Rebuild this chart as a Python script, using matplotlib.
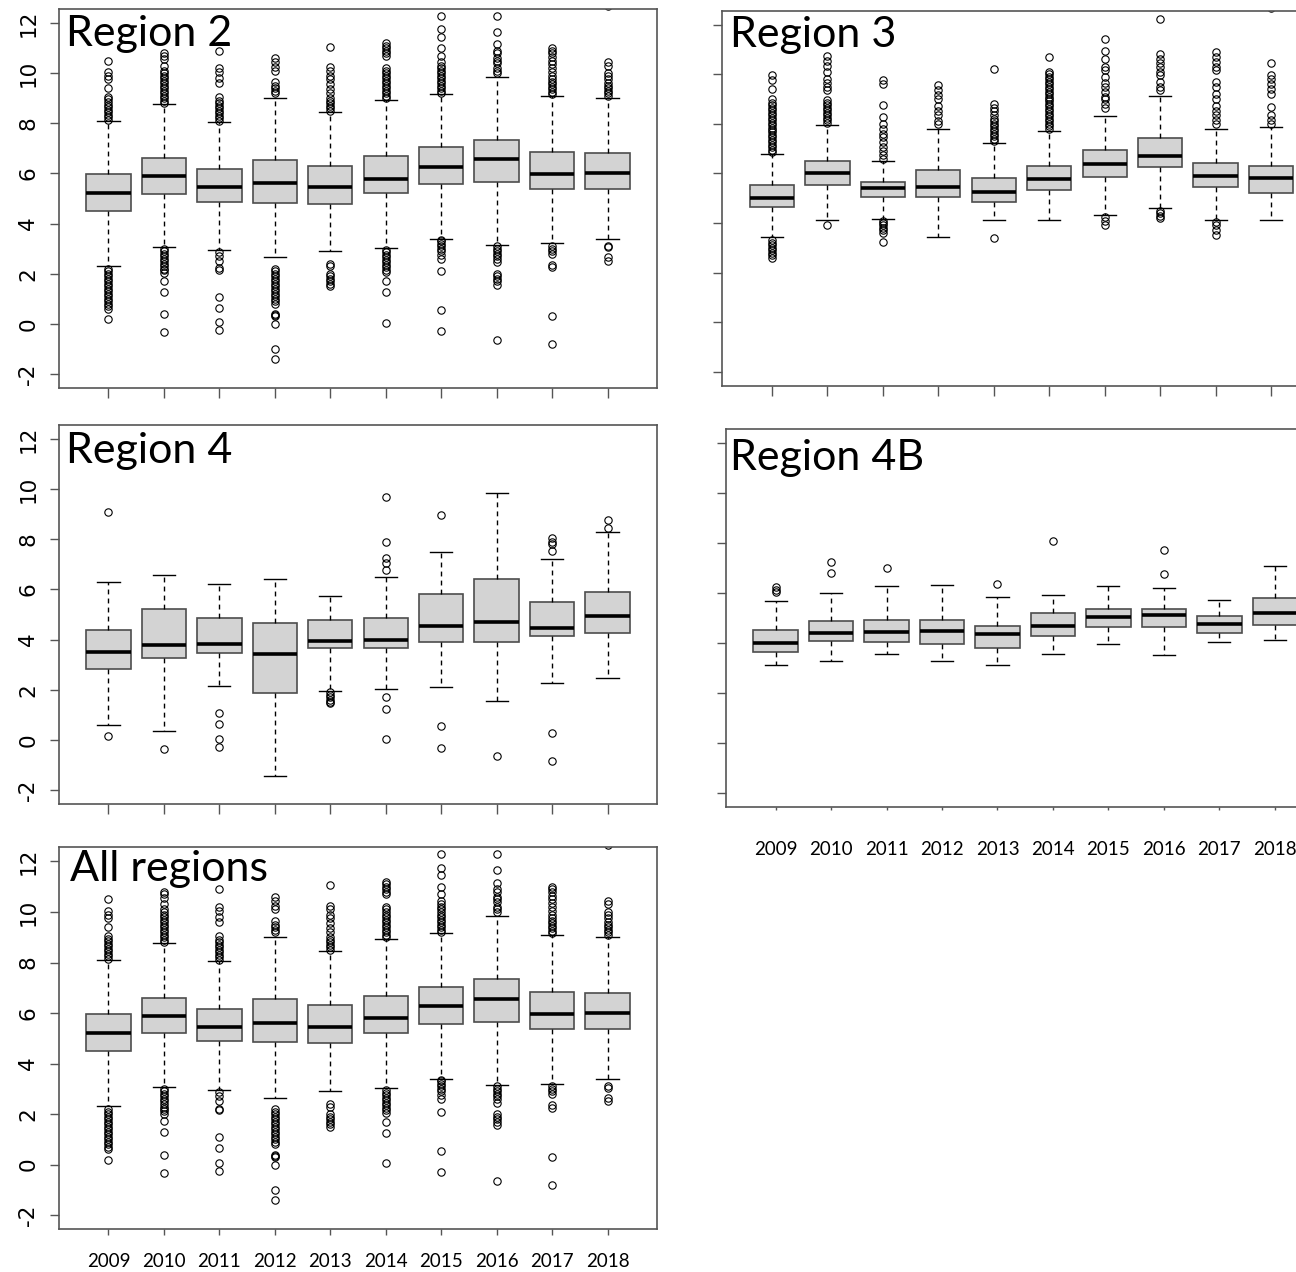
import matplotlib
matplotlib.use("Agg")
import matplotlib.pyplot as plt

# ---------------- data ----------------
years = ["2009", "2010", "2011", "2012", "2013", "2014", "2015", "2016", "2017", "2018"]
y_ticks = [-2, 0, 2, 4, 6, 8, 10, 12]

# Region 2
r2_med = [5.20, 5.88, 5.44, 5.61, 5.44, 5.79, 6.27, 6.56, 5.97, 6.01]
r2_q1 = [4.49, 5.19, 4.88, 4.84, 4.80, 5.21, 5.56, 5.64, 5.36, 5.36]
r2_q3 = [5.96, 6.60, 6.16, 6.55, 6.31, 6.69, 7.04, 7.33, 6.85, 6.81]
r2_lo = [2.31, 3.07, 2.96, 2.65, 2.92, 3.03, 3.39, 3.16, 3.21, 3.39]
r2_hi = [8.11, 8.76, 8.05, 9.01, 8.45, 8.93, 9.17, 9.83, 9.09, 9.01]
r2_fliers = [
    [8.15, 8.25, 8.35, 8.45, 8.55, 8.65, 8.75, 8.85, 8.95, 9.05, 9.4, 9.75, 9.9, 10.05, 10.5,
     2.2, 2.1, 2.0, 1.9, 1.8, 1.7, 1.6, 1.5, 1.4, 1.3, 1.2, 1.1, 1.0, 0.9, 0.8, 0.7, 0.6, 0.19],
    [8.8, 8.9, 9.0, 9.1, 9.2, 9.3, 9.4, 9.5, 9.6, 9.7, 9.8, 9.9, 10.0, 10.1, 10.3, 10.55, 10.7, 10.8,
     3.0, 2.9, 2.8, 2.7, 2.6, 2.5, 2.4, 2.3, 2.2, 2.14, 2.01, 1.72, 1.28, 0.4, -0.33],
    [8.1, 8.2, 8.3, 8.4, 8.5, 8.6, 8.7, 8.8, 8.9, 9.05, 9.6, 9.8, 10.05, 10.2, 10.9,
     2.87, 2.71, 2.51, 2.21, 2.15, 1.08, 0.65, 0.07, -0.24],
    [9.2, 9.3, 9.4, 9.5, 9.65, 10.1, 10.25, 10.45, 10.6,
     2.2, 2.1, 2.0, 1.9, 1.8, 1.7, 1.6, 1.5, 1.4, 1.3, 1.2, 1.1, 1.0, 0.9, 0.8, 0.4, 0.35, 0.3, 0.0, -1.0, -1.4],
    [8.5, 8.6, 8.7, 8.8, 8.9, 9.0, 9.2, 9.35, 9.55, 9.75, 9.9, 10.1, 10.25, 11.05,
     2.4, 2.3, 2.0, 1.9, 1.8, 1.7, 1.6, 1.5],
    [9.0, 9.1, 9.2, 9.3, 9.4, 9.5, 9.6, 9.7, 9.8, 9.9, 10.0, 10.1, 10.2, 10.7, 10.8, 10.9, 11.0, 11.1, 11.2,
     2.95, 2.85, 2.75, 2.65, 2.55, 2.45, 2.35, 2.25, 2.15, 2.05, 1.7, 1.25, 0.05],
    [9.2, 9.3, 9.4, 9.5, 9.6, 9.7, 9.8, 9.9, 10.0, 10.1, 10.2, 10.3, 10.45, 10.7, 11.0, 11.45, 11.75, 12.3,
     3.35, 3.3, 3.2, 3.1, 3.0, 2.9, 2.75, 2.6, 2.1, 0.55, -0.3],
    [10.0, 10.1, 10.2, 10.4, 10.5, 10.6, 10.8, 10.9, 11.15, 11.65, 12.3,
     3.1, 3.0, 2.9, 2.8, 2.7, 2.6, 2.45, 2.0, 1.9, 1.8, 1.7, 1.55, -0.65],
    [9.15, 9.25, 9.35, 9.45, 9.55, 9.65, 9.75, 9.9, 10.05, 10.2, 10.35, 10.5, 10.65, 10.8, 10.9, 11.0,
     3.1, 3.0, 2.9, 2.8, 2.35, 2.25, 0.3, -0.8],
    [9.1, 9.2, 9.3, 9.4, 9.5, 9.6, 9.75, 9.9, 10.0, 10.3, 10.45, 12.66,
     3.1, 3.05, 2.65, 2.5],
]

# Region 3
r3_med = [5.01, 6.00, 5.41, 5.44, 5.26, 5.79, 6.39, 6.72, 5.91, 5.83]
r3_q1 = [4.66, 5.52, 5.03, 5.03, 4.83, 5.34, 5.85, 6.24, 5.46, 5.21]
r3_q3 = [5.53, 6.51, 5.66, 6.12, 5.81, 6.30, 6.93, 7.41, 6.42, 6.30]
r3_lo = [3.42, 4.11, 4.16, 3.42, 4.11, 4.11, 4.32, 4.62, 4.11, 4.11]
r3_hi = [6.77, 7.96, 6.51, 7.80, 7.23, 7.70, 8.30, 9.11, 7.80, 7.87]
r3_fliers = [
    [6.85, 6.95, 7.05, 7.15, 7.25, 7.35, 7.45, 7.55, 7.65, 7.75, 7.85, 7.95, 8.05, 8.15, 8.25, 8.35,
     8.45, 8.55, 8.65, 8.75, 8.85, 9.0, 9.4, 9.75, 9.95,
     3.3, 3.2, 3.1, 3.0, 2.9, 2.8, 2.7, 2.6],
    [8.05, 8.15, 8.25, 8.35, 8.45, 8.55, 8.65, 8.75, 8.85, 8.95, 9.35, 9.5, 9.65, 9.8, 10.1, 10.35,
     10.55, 10.75, 3.93],
    [6.6, 6.75, 6.9, 7.05, 7.25, 7.45, 7.6, 7.8, 8.0, 8.27, 8.74, 9.6, 9.78,
     4.1, 4.0, 3.9, 3.8, 3.7, 3.6, 3.23],
    [8.0, 8.1, 8.35, 8.5, 8.7, 9.0, 9.15, 9.35, 9.55],
    [7.3, 7.4, 7.5, 7.6, 7.7, 7.8, 7.9, 8.0, 8.1, 8.2, 8.35, 8.5, 8.65, 8.8, 10.2, 3.4],
    [7.8, 7.9, 8.0, 8.1, 8.2, 8.3, 8.4, 8.5, 8.6, 8.7, 8.8, 8.9, 9.0, 9.1, 9.2, 9.3, 9.4, 9.5, 9.6,
     9.7, 9.8, 9.9, 10.0, 10.1, 10.7],
    [8.65, 8.8, 9.0, 9.1, 9.3, 9.5, 9.65, 9.9, 10.15, 10.3, 10.6, 10.95, 11.4, 4.24, 4.1, 3.93],
    [9.35, 9.5, 9.7, 9.95, 10.1, 10.3, 10.45, 10.6, 10.8, 12.23, 4.5, 4.4, 4.3, 4.2],
    [8.0, 8.15, 8.34, 8.5, 8.7, 9.0, 9.2, 9.5, 9.7, 10.15, 10.3, 10.48, 10.7, 10.9,
     4.04, 3.9, 3.7, 3.5],
    [8.0, 8.15, 8.34, 8.67, 9.2, 9.4, 9.6, 9.8, 9.95, 10.46, 12.66],
]

# Region 4
r4_med = [3.52, 3.77, 3.83, 3.44, 3.96, 4.00, 4.55, 4.72, 4.45, 4.93]
r4_q1 = [2.83, 3.25, 3.47, 1.88, 3.68, 3.68, 3.89, 3.89, 4.16, 4.28]
r4_q3 = [4.37, 5.23, 4.88, 4.68, 4.80, 4.88, 5.83, 6.43, 5.49, 5.91]
r4_lo = [0.60, 0.37, 2.15, -1.43, 1.96, 2.01, 2.09, 1.53, 2.27, 2.48]
r4_hi = [6.29, 6.56, 6.23, 6.43, 5.75, 6.48, 7.51, 9.83, 7.20, 8.28]
r4_fliers = [
    [9.09, 0.16],
    [-0.36],
    [1.07, 0.64, 0.04, -0.27],
    [],
    [1.9, 1.8, 1.7, 1.6, 1.5, 1.45],
    [6.77, 7.05, 7.25, 7.89, 9.69, 1.71, 1.24, 0.03],
    [8.96, 0.55, -0.32],
    [-0.65],
    [7.55, 7.81, 7.91, 8.04, 0.29, -0.83],
    [8.44, 8.77],
]

# Region 4B
r4b_med = [4.02, 4.41, 4.45, 4.49, 4.37, 4.70, 5.06, 5.13, 4.79, 5.22]
r4b_q1 = [3.66, 4.10, 4.05, 3.97, 3.83, 4.30, 4.65, 4.65, 4.43, 4.74]
r4b_q3 = [4.53, 4.91, 4.95, 4.95, 4.70, 5.22, 5.38, 5.38, 5.09, 5.81]
r4b_lo = [3.15, 3.30, 3.59, 3.30, 3.15, 3.59, 3.97, 3.54, 4.06, 4.14]
r4b_hi = [5.69, 6.02, 6.29, 6.33, 5.85, 5.94, 6.29, 6.20, 5.73, 7.09]
r4b_fliers = [
    [6.05, 6.15, 6.25],
    [6.8, 7.26],
    [7.01],
    [],
    [6.37],
    [8.08],
    [],
    [6.78, 7.73],
    [],
    [],
]

# All regions
all_med = [5.20, 5.88, 5.44, 5.61, 5.44, 5.79, 6.27, 6.56, 5.97, 6.01]
all_q1 = [4.49, 5.19, 4.88, 4.84, 4.80, 5.21, 5.56, 5.64, 5.36, 5.36]
all_q3 = [5.96, 6.60, 6.16, 6.55, 6.31, 6.69, 7.04, 7.33, 6.85, 6.81]
all_lo = [2.31, 3.07, 2.96, 2.65, 2.92, 3.03, 3.39, 3.16, 3.21, 3.39]
all_hi = [8.11, 8.76, 8.05, 9.01, 8.45, 8.93, 9.17, 9.83, 9.09, 9.01]
all_fliers = [list(f) for f in r2_fliers]

# ---------------- figure ----------------
W, H = 1296, 1272
fig = plt.figure(figsize=(W / 100, H / 100), dpi=100)


def add_axes_px(left, top, width, height):
    return fig.add_axes([left / W, 1 - (top + height) / H, width / W, height / H])


SPINE = "#555555"

panels = [
    # title, stats..., rect(px), xlabels, ylabels, title offset(px), xtick len(pt)
    ("Region 2", r2_med, r2_q1, r2_q3, r2_lo, r2_hi, r2_fliers, (58.5, 9, 599, 379), False, True, (8, 37), 7),
    ("Region 3", r3_med, r3_q1, r3_q3, r3_lo, r3_hi, r3_fliers, (722, 10.7, 599, 375), False, False, (8, 36), 7),
    ("Region 4", r4_med, r4_q1, r4_q3, r4_lo, r4_hi, r4_fliers, (58.5, 425, 599, 379), False, True, (7, 38), 7),
    ("Region 4B", r4b_med, r4b_q1, r4b_q3, r4b_lo, r4b_hi, r4b_fliers, (725.7, 429.3, 599, 378), True, False, (4, 41), 2.5),
    ("All regions", all_med, all_q1, all_q3, all_lo, all_hi, all_fliers, (58.5, 847.3, 599, 382), True, True, (11, 34), 4),
]
label_pads = {"Region 4B": 22, "All regions": 13}

positions = list(range(1, len(years) + 1))

for (title, med, q1, q3, lo, hi, fl, rect, show_x, show_y, toff, xlen) in panels:
    ax = add_axes_px(*rect)
    stats = [dict(med=m, q1=a, q3=b, whislo=l, whishi=h, fliers=f)
             for m, a, b, l, h, f in zip(med, q1, q3, lo, hi, fl)]
    ax.bxp(stats, positions=positions, widths=0.8, capwidths=0.4, patch_artist=True,
           showfliers=True, manage_ticks=False,
           boxprops=dict(facecolor="#d3d3d3", edgecolor="#4d4d4d", linewidth=1.2),
           medianprops=dict(color="black", linewidth=2.6, solid_capstyle="butt"),
           whiskerprops=dict(color="black", linewidth=1.0, linestyle=(0, (3.5, 3))),
           capprops=dict(color="black", linewidth=1.0),
           flierprops=dict(marker="o", markersize=5.3, markerfacecolor="none",
                           markeredgecolor="black", markeredgewidth=0.8, linestyle="none"))
    ax.set_xlim(0.1, 10.9)
    ax.set_ylim(-2.56, 12.56)
    for s in ax.spines.values():
        s.set_color(SPINE)
        s.set_linewidth(1.2)
    ax.set_yticks(y_ticks)
    ax.set_xticks(positions)
    ax.tick_params(axis="y", length=6.5, width=1, color=SPINE, pad=8,
                   labelsize=15.5, labelleft=show_y)
    if show_y:
        ax.set_yticklabels([str(v) for v in y_ticks], rotation=90, va="center")
    ax.tick_params(axis="x", length=xlen, width=1, color=SPINE,
                   pad=label_pads.get(title, 4), labelbottom=show_x)
    if show_x:
        ax.set_xticklabels(years, fontfamily="Lato", fontsize=13.5)
    ax.annotate(title, xy=(0, 1), xycoords="axes fraction",
                xytext=(toff[0], -toff[1]), textcoords="offset pixels",
                ha="left", va="baseline", fontfamily="Lato", fontsize=31, color="black")

fig.savefig("out.png", dpi=100)
